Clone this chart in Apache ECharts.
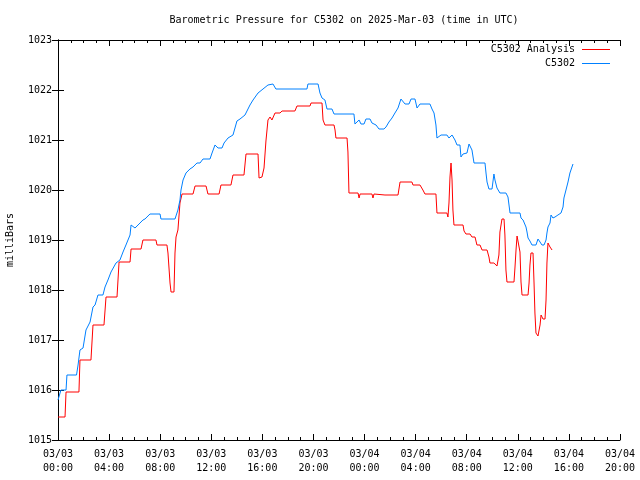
<!DOCTYPE html>
<html>
<head>
<meta charset="utf-8">
<script src="https://cdn.jsdelivr.net/npm/echarts@6/dist/echarts.min.js"></script>
<style>html,body{margin:0;padding:0;background:#fff}#c{width:640px;height:480px}</style>
</head>
<body>
<div id="c"></div>
<script>
// Hours since 2025-03-03 00:00 UTC
const xTickLabels = ['03/03\n00:00','03/03\n04:00','03/03\n08:00','03/03\n12:00','03/03\n16:00','03/03\n20:00','03/04\n00:00','03/04\n04:00','03/04\n08:00','03/04\n12:00','03/04\n16:00','03/04\n20:00'];
const yTickLabels = ['1015','1016','1017','1018','1019','1020','1021','1022','1023'];

const analysisHours = [0.00,0.55,0.63,1.64,1.72,2.58,2.74,3.60,3.76,4.62,4.78,5.64,5.72,6.50,6.65,7.67,7.75,8.53,8.61,8.77,8.85,9.08,9.16,9.24,9.39,9.55,9.71,10.57,10.73,11.59,11.74,12.61,12.76,13.54,13.70,14.56,14.72,15.66,15.74,15.97,16.13,16.28,16.44,16.60,16.75,16.99,17.38,17.54,18.55,18.71,19.73,19.81,20.67,20.75,20.90,21.61,21.69,21.76,22.63,22.70,22.78,23.49,23.57,23.65,24.58,24.66,24.74,25.60,26.62,26.78,27.71,27.79,28.34,28.57,28.73,29.59,29.67,30.45,30.53,30.61,30.69,30.77,30.85,30.92,31.00,31.71,31.79,31.94,32.26,32.41,32.65,32.80,33.04,33.20,33.59,33.74,33.82,34.13,34.37,34.52,34.60,34.76,34.92,34.99,35.07,35.15,35.70,35.78,35.86,35.94,36.09,36.17,36.25,36.33,36.80,36.88,36.95,37.03,37.19,37.27,37.34,37.42,37.58,37.66,37.74,37.82,37.97,38.13,38.21,38.28,38.36,38.52,38.68];
const analysisValues = [1015.46,1015.46,1015.96,1015.96,1016.60,1016.60,1017.30,1017.30,1017.86,1017.86,1018.56,1018.56,1018.82,1018.82,1019.00,1019.00,1018.90,1018.90,1018.74,1018.14,1017.96,1017.96,1018.74,1019.06,1019.20,1019.74,1019.92,1019.92,1020.08,1020.08,1019.92,1019.92,1020.10,1020.10,1020.30,1020.30,1020.72,1020.72,1020.24,1020.26,1020.44,1020.98,1021.40,1021.46,1021.40,1021.54,1021.54,1021.58,1021.58,1021.68,1021.68,1021.74,1021.74,1021.40,1021.30,1021.30,1021.20,1021.04,1021.04,1020.76,1019.94,1019.94,1019.84,1019.92,1019.92,1019.84,1019.92,1019.90,1019.90,1020.16,1020.16,1020.10,1020.10,1020.00,1019.92,1019.92,1019.54,1019.54,1019.46,1019.74,1020.26,1020.54,1020.20,1019.60,1019.30,1019.30,1019.18,1019.12,1019.12,1019.06,1019.06,1018.90,1018.90,1018.80,1018.80,1018.66,1018.54,1018.54,1018.48,1018.70,1019.16,1019.42,1019.42,1019.10,1018.40,1018.16,1018.16,1018.46,1018.80,1019.08,1019.08,1018.76,1018.16,1017.90,1017.90,1018.14,1018.50,1018.74,1018.74,1018.14,1017.54,1017.14,1017.08,1017.08,1017.30,1017.50,1017.42,1017.42,1017.80,1018.54,1018.94,1018.86,1018.80];

const stationHours = [0.00,0.23,0.63,0.70,1.45,1.57,1.72,1.96,2.19,2.51,2.74,2.90,3.13,3.52,3.68,3.91,4.15,4.54,4.85,5.09,5.32,5.64,5.72,6.03,6.42,6.65,6.81,7.20,7.99,8.06,9.16,9.39,9.55,9.63,9.79,10.02,10.33,10.57,10.88,11.12,11.35,11.90,12.06,12.29,12.53,12.84,13.00,13.31,13.70,14.01,14.25,14.64,15.03,15.27,15.66,16.05,16.44,16.83,17.06,19.49,19.57,20.36,20.51,20.67,20.90,21.06,21.45,21.61,23.17,23.25,23.41,23.57,23.72,23.96,24.11,24.43,24.58,24.90,25.13,25.52,25.68,25.91,26.15,26.38,26.62,26.85,27.17,27.48,27.64,27.95,28.11,28.34,29.12,29.28,29.44,29.59,29.67,29.75,29.99,30.45,30.61,30.85,31.08,31.24,31.47,31.55,31.71,32.02,32.18,32.41,32.57,33.43,33.51,33.59,33.74,33.98,34.13,34.21,34.37,34.60,35.07,35.23,35.31,35.39,36.17,36.25,36.41,36.56,36.64,36.72,36.80,36.95,37.11,37.42,37.58,37.74,37.89,38.05,38.21,38.28,38.36,38.52,38.60,38.75,38.91,39.14,39.38,39.54,39.61,39.77,39.93,40.08,40.24,40.32];
const stationValues = [1015.80,1016.00,1016.00,1016.30,1016.30,1016.50,1016.80,1016.84,1017.20,1017.36,1017.66,1017.70,1017.90,1017.90,1018.06,1018.20,1018.36,1018.54,1018.60,1018.76,1018.90,1019.10,1019.30,1019.24,1019.34,1019.40,1019.42,1019.52,1019.52,1019.42,1019.42,1019.60,1019.80,1020.00,1020.20,1020.34,1020.42,1020.46,1020.54,1020.54,1020.62,1020.62,1020.74,1020.90,1020.84,1020.84,1020.94,1021.04,1021.10,1021.38,1021.42,1021.50,1021.70,1021.80,1021.94,1022.02,1022.10,1022.12,1022.02,1022.02,1022.12,1022.12,1021.94,1021.84,1021.80,1021.62,1021.62,1021.52,1021.52,1021.32,1021.36,1021.40,1021.32,1021.32,1021.42,1021.42,1021.34,1021.30,1021.22,1021.22,1021.26,1021.36,1021.44,1021.54,1021.64,1021.82,1021.72,1021.72,1021.82,1021.82,1021.64,1021.72,1021.72,1021.62,1021.54,1021.30,1021.04,1021.00,1021.10,1021.10,1021.04,1021.10,1021.00,1020.90,1020.90,1020.66,1020.72,1020.74,1020.92,1020.80,1020.54,1020.54,1020.34,1020.16,1020.02,1020.02,1020.32,1020.20,1020.04,1019.94,1019.94,1019.86,1019.70,1019.54,1019.54,1019.44,1019.40,1019.36,1019.26,1019.16,1019.04,1018.98,1018.90,1018.90,1019.02,1018.96,1018.90,1018.90,1019.00,1019.14,1019.26,1019.34,1019.50,1019.44,1019.46,1019.50,1019.54,1019.66,1019.84,1020.00,1020.16,1020.34,1020.46,1020.52];

const seriesNames = ['C5302 Analysis', 'C5302'];
const seriesColors = ['#ff0000', '#0080ff'];

const FONT = 'DejaVu Sans Mono';
const zip = (a, b) => a.map((v, i) => [v, b[i]]);

const chart = echarts.init(document.getElementById('c'), null, {renderer: 'canvas'});
const tickStyle = {show: true, inside: true, length: 6, lineStyle: {color: '#000', width: 1}};
const minorStyle = {show: true, splitNumber: 4, length: 3, lineStyle: {color: '#000', width: 1}};
chart.setOption({
  animation: false,
  backgroundColor: '#fff',
  title: {
    text: 'Barometric Pressure for C5302 on 2025-Mar-03 (time in UTC)',
    left: 339, top: 10, textAlign: 'center',
    textStyle: {fontFamily: FONT, fontSize: 10, fontWeight: 'normal', color: '#000'}
  },
  grid: {left: 58, right: 20, top: 40, bottom: 40, containLabel: false, outerBoundsMode: 'none'},
  xAxis: [{
    type: 'value', min: 0, max: 44, interval: 4, position: 'bottom',
    axisLine: {show: true, lineStyle: {color: '#000', width: 1}},
    axisTick: tickStyle, minorTick: minorStyle,
    splitLine: {show: false},
    axisLabel: {margin: 7, fontFamily: FONT, fontSize: 10, color: '#000', lineHeight: 14,
      formatter: v => xTickLabels[Math.round(v / 4)]}
  }, {
    type: 'value', min: 0, max: 44, interval: 4, position: 'top',
    axisLine: {show: true, lineStyle: {color: '#000', width: 1}},
    axisTick: tickStyle, minorTick: minorStyle,
    splitLine: {show: false}, axisLabel: {show: false}
  }],
  yAxis: [{
    type: 'value', min: 1015, max: 1023, interval: 1, position: 'left',
    name: 'milliBars', nameLocation: 'middle', nameRotate: 90, nameGap: 43,
    nameTextStyle: {fontFamily: FONT, fontSize: 10, color: '#000'},
    axisLine: {show: true, lineStyle: {color: '#000', width: 1}},
    axisTick: tickStyle, splitLine: {show: false},
    axisLabel: {margin: 6, fontFamily: FONT, fontSize: 10, color: '#000',
      formatter: v => yTickLabels[Math.round(v - 1015)]}
  }, {
    type: 'value', min: 1015, max: 1023, interval: 1, position: 'right',
    axisLine: {show: true, lineStyle: {color: '#000', width: 1}},
    axisTick: tickStyle, splitLine: {show: false}, axisLabel: {show: false}
  }],
  series: [{
    name: seriesNames[0], type: 'line', xAxisIndex: 0, yAxisIndex: 0,
    data: zip(analysisHours, analysisValues), showSymbol: false, symbol: 'none',
    lineStyle: {color: seriesColors[0], width: 1}, itemStyle: {color: seriesColors[0]}
  }, {
    name: seriesNames[1], type: 'line', xAxisIndex: 0, yAxisIndex: 0,
    data: zip(stationHours, stationValues), showSymbol: false, symbol: 'none',
    lineStyle: {color: seriesColors[1], width: 1}, itemStyle: {color: seriesColors[1]}
  }],
  graphic: [
    {type: 'text', right: 65, top: 44, style: {text: seriesNames[0], fontFamily: FONT, fontSize: 10, fill: '#000', textAlign: 'right'}},
    {type: 'line', shape: {x1: 582, y1: 49.5, x2: 610, y2: 49.5}, style: {stroke: seriesColors[0], lineWidth: 1}},
    {type: 'text', right: 65, top: 58, style: {text: seriesNames[1], fontFamily: FONT, fontSize: 10, fill: '#000', textAlign: 'right'}},
    {type: 'line', shape: {x1: 582, y1: 63.5, x2: 610, y2: 63.5}, style: {stroke: seriesColors[1], lineWidth: 1}}
  ]
});
</script>
</body>
</html>
